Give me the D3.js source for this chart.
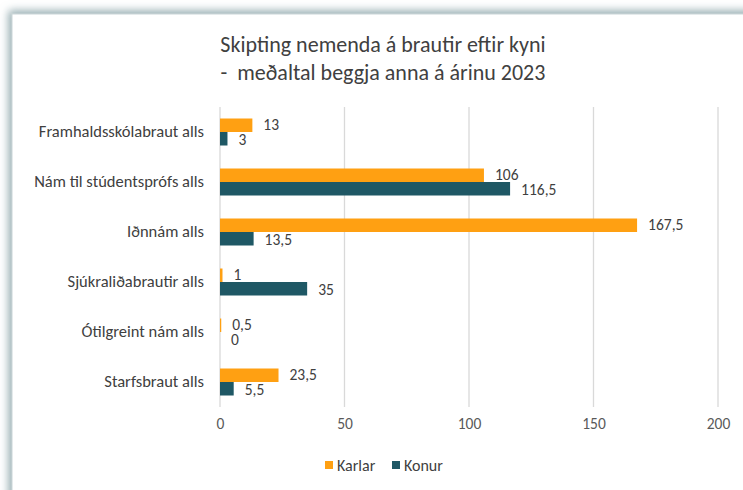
<!DOCTYPE html>
<html>
<head>
<meta charset="utf-8">
<script src="https://cdn.jsdelivr.net/npm/d3@7"></script>
<style>
  body { margin: 0; background: #fff; }
  svg { display: block; font-family: Carlito, Lato, "Open Sans", sans-serif; }
</style>
</head>
<body>
<div id="chart"></div>
<script>
{ // start block scope

	const categories = [
		"Framhaldsskólabraut alls",
		"Nám til stúdentsprófs alls",
		"Iðnnám alls",
		"Sjúkraliðabrautir alls",
		"Ótilgreint nám alls",
		"Starfsbraut alls"
	];
	const karlar = [13, 106, 167.5, 1, 0.5, 23.5];
	const konur = [3, 116.5, 13.5, 35, 0, 5.5];
	const seriesNames = ["Karlar", "Konur"];
	const xTicks = [0, 50, 100, 150, 200];
	const titleLines = [
		"Skipting nemenda á brautir eftir kyni",
		"-  meðaltal beggja anna á árinu 2023"
	];

	var width = 743,
		height = 490;

	const colors = { Karlar: "#ffa012", Konur: "#1f5865" };
	const fmt = (v) => String(v).replace(".", ",");
	const fontStack = "Carlito, Lato, 'Open Sans', sans-serif";

	var svg = d3
		.select("#chart")
		.append("svg")
		.attr("width", width)
		.attr("height", height);

	// frame with shadow on the top/left
	const defs = svg.append("defs");
	const filter = defs.append("filter").attr("id", "shadow")
		.attr("x", "-10%").attr("y", "-10%").attr("width", "120%").attr("height", "120%");
	filter.append("feDropShadow")
		.attr("dx", -3).attr("dy", -3)
		.attr("stdDeviation", 4)
		.attr("flood-color", "#6f9096")
		.attr("flood-opacity", 0.75);

	svg.append("rect")
		.attr("x", 12).attr("y", 14)
		.attr("width", width + 20).attr("height", height + 20)
		.attr("fill", "#fff")
		.attr("stroke", "#c9d6d8")
		.attr("filter", "url(#shadow)");

	// title
	svg.append("g")
		.selectAll("text")
		.data(titleLines)
		.join("text")
		.attr("x", 383)
		.attr("y", (d, i) => 52 + i * 28)
		.attr("text-anchor", "middle")
		.style("font-size", "22px")
		.style("fill", "#404040")
		.style("white-space", "pre")
		.text((d) => d);

	const margin = { left: 220, top: 107 };

	const x = d3.scaleLinear()
		.domain([0, 200])
		.range([margin.left, 718]);

	const y = d3.scaleBand()
		.domain(categories)
		.range([margin.top, 407])
		.paddingInner(0.46)
		.paddingOuter(0.23);

	const ySub = d3.scaleBand()
		.domain(seriesNames)
		.range([0, y.bandwidth()]);

	// gridlines
	svg.append("g")
		.selectAll("line")
		.data(xTicks)
		.join("line")
		.attr("x1", (d) => x(d))
		.attr("x2", (d) => x(d))
		.attr("y1", 107)
		.attr("y2", 407)
		.style("stroke", "#d9d9d9")
		.style("stroke-width", 1.3);

	// x axis labels
	const xAxis = d3.axisBottom(x)
		.tickValues(xTicks)
		.tickSize(0)
		.tickPadding(0);
	svg.append("g")
		.attr("transform", "translate(0, 418)")
		.call(xAxis)
		.call((g) => g.select(".domain").remove())
		.call((g) => g.selectAll("text")
			.style("font-size", "15.5px")
			.style("font-family", fontStack)
			.style("fill", "#595959"));

	// category labels
	const yAxis = d3.axisLeft(y).tickSize(0).tickPadding(16);
	svg.append("g")
		.attr("transform", `translate(${margin.left}, 0)`)
		.call(yAxis)
		.call((g) => g.select(".domain").remove())
		.call((g) => g.selectAll("text")
			.style("font-size", "16.5px")
			.style("font-family", fontStack)
			.style("fill", "#404040"));

	const rows = categories.map((c, i) => ({
		category: c,
		values: [
			{ key: "Karlar", value: karlar[i] },
			{ key: "Konur", value: konur[i] }
		]
	}));

	const groups = svg.append("g")
		.selectAll("g")
		.data(rows)
		.join("g")
		.attr("transform", (d) => `translate(0, ${y(d.category)})`);

	groups.selectAll("rect")
		.data((d) => d.values)
		.join("rect")
		.attr("x", x(0))
		.attr("y", (d) => ySub(d.key))
		.attr("width", (d) => x(d.value) - x(0))
		.attr("height", ySub.bandwidth())
		.attr("fill", (d) => colors[d.key]);

	groups.selectAll("text")
		.data((d) => d.values)
		.join("text")
		.attr("x", (d) => x(d.value) + 11)
		.attr("y", (d) => ySub(d.key) + ySub.bandwidth() / 2 + (d.key === "Karlar" ? -0.5 : 1))
		.attr("dy", "0.36em")
		.style("font-size", "15.5px")
		.style("fill", "#404040")
		.text((d) => fmt(d.value));

	// legend
	const legend = svg.append("g").attr("id", "legend");
	const legendX = [325, 392];
	legend.selectAll("rect")
		.data(seriesNames)
		.join("rect")
		.attr("x", (d, i) => legendX[i])
		.attr("y", 461)
		.attr("width", 8)
		.attr("height", 8)
		.attr("fill", (d) => colors[d]);
	legend.selectAll("text")
		.data(seriesNames)
		.join("text")
		.attr("x", (d, i) => legendX[i] + 12)
		.attr("y", 465)
		.attr("dy", "0.36em")
		.style("font-size", "16px")
		.style("fill", "#404040")
		.text((d) => d);

} // end block scope
</script>
</body>
</html>
